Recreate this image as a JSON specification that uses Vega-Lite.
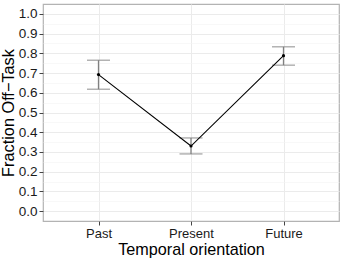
{
  "$schema": "https://vega.github.io/schema/vega-lite/v6.json",
  "width": 296,
  "height": 217,
  "autosize": {"type": "none"},
  "padding": {"left": 43, "top": 4, "right": 5, "bottom": 37},
  "background": "white",
  "config": {
    "view": {"stroke": "#b3b3b3", "strokeWidth": 1.2},
    "axis": {"labelFont": "Liberation Sans", "titleFont": "Liberation Sans", "labelOverlap": false},
    "axisY": {
      "titleFontSize": 16.3,
      "titleFontWeight": "normal",
      "titleColor": "black",
      "titlePadding": 2,
      "labelFontSize": 13.5,
      "labelColor": "#1a1a1a",
      "labelPadding": 2,
      "tickColor": "#444",
      "domain": false,
      "grid": true
    }
  },
  "data": {
    "values": [
      {"orientation": "Past", "mean": 0.692, "lo": 0.618, "hi": 0.765},
      {"orientation": "Present", "mean": 0.330, "lo": 0.290, "hi": 0.371},
      {"orientation": "Future", "mean": 0.788, "lo": 0.740, "hi": 0.833}
    ]
  },
  "encoding": {
    "x": {
      "field": "orientation",
      "type": "nominal",
      "sort": ["Past", "Present", "Future"],
      "scale": {"type": "point", "padding": 0.6},
      "axis": {
        "title": "Temporal orientation",
        "titleFontSize": 16.2,
        "titleFontWeight": "normal",
        "titleColor": "black",
        "titlePadding": 1,
        "labelFontSize": 13,
        "labelColor": "#1a1a1a",
        "labelPadding": 2,
        "labelAngle": 0,
        "tickSize": 4,
        "tickColor": "#444",
        "domain": false,
        "grid": true,
        "gridColor": "#ebebeb",
        "gridWidth": 1
      }
    }
  },
  "layer": [
    {
      "mark": {"type": "rule", "color": "#808080", "strokeWidth": 1.3},
      "encoding": {
        "y": {
          "field": "lo",
          "type": "quantitative",
          "scale": {"domain": [-0.05, 1.05], "nice": false, "zero": false},
          "axis": {
            "title": "Fraction Off\u2212Task",
            "values": [0, 0.05, 0.1, 0.15, 0.2, 0.25, 0.3, 0.35, 0.4, 0.45, 0.5, 0.55, 0.6, 0.65, 0.7, 0.75, 0.8, 0.85, 0.9, 0.95, 1.0],
            "labelExpr": "round(datum.value*20) % 2 == 0 ? format(datum.value, '.1f') : ''",
            "tickSize": {"condition": {"test": "round(datum.value*20) % 2 == 1", "value": 0}, "value": 4},
            "gridColor": {"condition": {"test": "round(datum.value*20) % 2 == 1", "value": "#f3f3f3"}, "value": "#ebebeb"},
            "gridWidth": {"condition": {"test": "round(datum.value*20) % 2 == 1", "value": 0.6}, "value": 1}
          }
        },
        "y2": {"field": "hi"}
      }
    },
    {
      "mark": {"type": "tick", "color": "#808080", "size": 23, "thickness": 1.3},
      "encoding": {"y": {"field": "lo", "type": "quantitative",
          "axis": {
            "title": "Fraction Off\u2212Task",
            "values": [0, 0.05, 0.1, 0.15, 0.2, 0.25, 0.3, 0.35, 0.4, 0.45, 0.5, 0.55, 0.6, 0.65, 0.7, 0.75, 0.8, 0.85, 0.9, 0.95, 1.0],
            "labelExpr": "round(datum.value*20) % 2 == 0 ? format(datum.value, '.1f') : ''",
            "tickSize": {"condition": {"test": "round(datum.value*20) % 2 == 1", "value": 0}, "value": 4},
            "gridColor": {"condition": {"test": "round(datum.value*20) % 2 == 1", "value": "#f3f3f3"}, "value": "#ebebeb"},
            "gridWidth": {"condition": {"test": "round(datum.value*20) % 2 == 1", "value": 0.6}, "value": 1}
          }}}
    },
    {
      "mark": {"type": "tick", "color": "#808080", "size": 23, "thickness": 1.3},
      "encoding": {"y": {"field": "hi", "type": "quantitative",
          "axis": {
            "title": "Fraction Off\u2212Task",
            "values": [0, 0.05, 0.1, 0.15, 0.2, 0.25, 0.3, 0.35, 0.4, 0.45, 0.5, 0.55, 0.6, 0.65, 0.7, 0.75, 0.8, 0.85, 0.9, 0.95, 1.0],
            "labelExpr": "round(datum.value*20) % 2 == 0 ? format(datum.value, '.1f') : ''",
            "tickSize": {"condition": {"test": "round(datum.value*20) % 2 == 1", "value": 0}, "value": 4},
            "gridColor": {"condition": {"test": "round(datum.value*20) % 2 == 1", "value": "#f3f3f3"}, "value": "#ebebeb"},
            "gridWidth": {"condition": {"test": "round(datum.value*20) % 2 == 1", "value": 0.6}, "value": 1}
          }}}
    },
    {
      "mark": {"type": "line", "color": "black", "strokeWidth": 1.1},
      "encoding": {"y": {"field": "mean", "type": "quantitative",
          "axis": {
            "title": "Fraction Off\u2212Task",
            "values": [0, 0.05, 0.1, 0.15, 0.2, 0.25, 0.3, 0.35, 0.4, 0.45, 0.5, 0.55, 0.6, 0.65, 0.7, 0.75, 0.8, 0.85, 0.9, 0.95, 1.0],
            "labelExpr": "round(datum.value*20) % 2 == 0 ? format(datum.value, '.1f') : ''",
            "tickSize": {"condition": {"test": "round(datum.value*20) % 2 == 1", "value": 0}, "value": 4},
            "gridColor": {"condition": {"test": "round(datum.value*20) % 2 == 1", "value": "#f3f3f3"}, "value": "#ebebeb"},
            "gridWidth": {"condition": {"test": "round(datum.value*20) % 2 == 1", "value": 0.6}, "value": 1}
          }}}
    },
    {
      "mark": {"type": "point", "filled": true, "color": "black", "size": 10, "opacity": 1},
      "encoding": {"y": {"field": "mean", "type": "quantitative",
          "axis": {
            "title": "Fraction Off\u2212Task",
            "values": [0, 0.05, 0.1, 0.15, 0.2, 0.25, 0.3, 0.35, 0.4, 0.45, 0.5, 0.55, 0.6, 0.65, 0.7, 0.75, 0.8, 0.85, 0.9, 0.95, 1.0],
            "labelExpr": "round(datum.value*20) % 2 == 0 ? format(datum.value, '.1f') : ''",
            "tickSize": {"condition": {"test": "round(datum.value*20) % 2 == 1", "value": 0}, "value": 4},
            "gridColor": {"condition": {"test": "round(datum.value*20) % 2 == 1", "value": "#f3f3f3"}, "value": "#ebebeb"},
            "gridWidth": {"condition": {"test": "round(datum.value*20) % 2 == 1", "value": 0.6}, "value": 1}
          }}}
    }
  ]
}
